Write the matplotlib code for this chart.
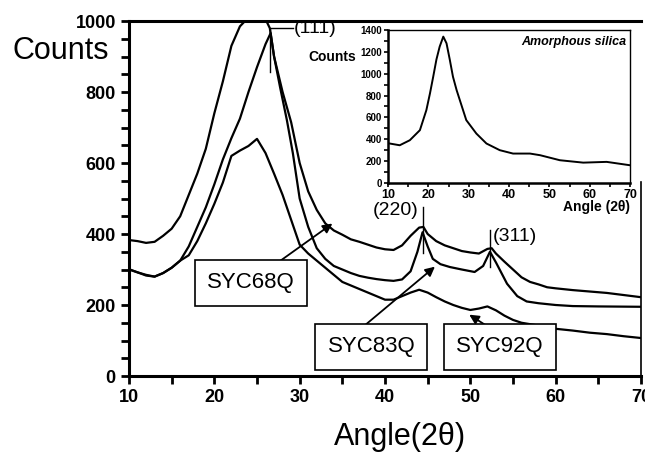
import matplotlib
matplotlib.use("Agg")
import matplotlib.pyplot as plt
from matplotlib.ticker import MultipleLocator

plt.rcParams['font.family'] = ['Liberation Sans', 'DejaVu Sans']

# === Data ===
x68 = [10, 11, 12, 13, 14, 15, 16, 17, 18, 19, 20, 21, 22, 23, 24, 25, 26, 26.5, 27, 28,
       29, 30, 31, 32, 33, 34, 35, 36, 37, 38, 39, 40, 41, 42, 43, 44, 44.5, 45, 46, 47,
       48, 49, 50, 51, 52, 52.5, 53, 54, 55, 56, 57, 58, 59, 60, 62, 64, 66, 68, 70]
y68 = [383, 380, 375, 378, 395, 415, 450, 510, 570, 640, 740, 830, 930, 985, 1010, 1010, 1005, 980, 900, 800,
       715, 600, 520, 468, 430, 410, 398, 385, 378, 370, 362, 357, 355, 368, 395, 418, 420, 400, 380, 368,
       360, 352, 348, 345, 358, 360, 345, 322, 300, 278, 265, 258, 250, 247, 242, 238, 234, 228, 222]

x83 = [10, 11, 12, 13, 14, 15, 16, 17, 18, 19, 20, 21, 22, 23, 24, 25, 26, 26.6, 27, 27.7,
       28.5, 29.2, 30, 31, 32, 33, 34, 35, 36, 37, 38, 39, 40, 41, 42, 43, 43.8, 44.4, 45, 45.6,
       46.5, 47.6, 49, 50.5, 51.5, 52.3, 53, 54.3, 55.5, 56.6, 58, 60, 62, 65, 70]
y83 = [301, 292, 285, 280, 290, 305, 325, 365, 420, 475, 540, 610, 670, 725, 800, 870, 935, 966, 900, 814,
       721, 628, 500, 420, 360, 330, 310, 300, 290, 282, 277, 273, 270, 268, 272, 295, 350, 405, 365, 330,
       315, 307, 300, 293, 310, 350, 320, 260, 225, 210, 205, 200, 197, 196, 195]

x92 = [10, 11, 12, 13, 14, 15, 16, 17, 18, 19, 20, 21, 22, 23, 24, 25, 26, 27, 28, 29,
       30, 31, 32, 33, 34, 35, 36, 37, 38, 39, 40, 41, 42, 43, 44, 45, 46, 47, 48, 49,
       50, 51, 52, 53, 54, 55, 56, 58, 60, 62, 64, 66, 68, 70]
y92 = [300, 292, 283, 280, 290, 305, 325, 340, 380, 430, 485, 545, 620, 635, 648, 668, 628, 570, 510, 440,
       370, 345, 325, 305, 285, 265, 255, 245, 235, 225, 215, 215, 225, 235, 243, 235, 222, 210, 200, 192,
       186, 190, 196, 185, 170, 158, 150, 142, 133, 128, 122, 118, 112, 107]

# inset: amorphous silica
xs = [10.4, 12.9, 15.4, 17.9, 19.5, 20.4, 21.2, 22, 22.8, 23.7, 24.5, 25.3, 26.1, 27, 27.8, 29.4,
      31.9, 34.4, 37.7, 41, 45.2, 47.7, 52.6, 58.4, 64.2, 70]
ys = [361, 345, 391, 483, 666, 820, 972, 1130, 1247, 1339, 1278, 1130, 972, 850, 758, 575,
      452, 361, 300, 269, 269, 254, 208, 186, 193, 162]

# === Figure ===
fig = plt.figure(figsize=(6.45, 4.54), dpi=100)
ax = fig.add_axes([0.2, 0.1718, 0.7938, 0.7819])

for xv, yv in [(x68, y68), (x83, y83), (x92, y92)]:
    ax.plot(xv, yv, color='black', lw=1.6)

ax.set_xlim(10, 70)
ax.set_ylim(0, 1000)
ax.xaxis.set_major_locator(MultipleLocator(10))
ax.xaxis.set_minor_locator(MultipleLocator(5))
ax.yaxis.set_major_locator(MultipleLocator(200))
ax.yaxis.set_minor_locator(MultipleLocator(50))
ax.tick_params(which='both', direction='out', length=6, width=2)
ax.tick_params(labelsize=13)
for lab in ax.get_xticklabels() + ax.get_yticklabels():
    lab.set_fontweight('bold')
for s in ['left', 'bottom', 'top']:
    ax.spines[s].set_linewidth(2.2)
ax.spines['right'].set_linewidth(1.2)
ax.spines['right'].set_bounds(0, 546)

fig.text(12 / 645, 1 - 51 / 454, 'Counts', fontsize=22, ha='left', va='center')
fig.text(400 / 645, 1 - 437 / 454, 'Angle(2θ)', fontsize=22, ha='center', va='center')

# peak markers
ax.plot([26.5, 26.5, 29.2], [856, 980, 980], color='black', lw=1, clip_on=False)
ax.text(29.3, 980, '(111)', fontsize=14, ha='left', va='center', clip_on=False)
ax.plot([44.45, 44.45], [346, 476], color='black', lw=1)
ax.text(43.9, 466, '(220)', fontsize=14, ha='right', va='center')
ax.plot([52.3, 52.3], [307, 411], color='black', lw=1)
ax.text(52.65, 392, '(311)', fontsize=14, ha='left', va='center')

# sample labels
box = dict(boxstyle='square,pad=0.55', fc='white', ec='black', lw=1.2)
arr = dict(arrowstyle='-|>', color='black', lw=1.3, mutation_scale=14)
ax.annotate('', xy=(34.1, 434), xytext=(27.35, 318), arrowprops=arr)
ax.annotate('', xy=(46.1, 313), xytext=(37.4, 138), arrowprops=arr)
ax.annotate('', xy=(49.6, 177), xytext=(52.65, 130), arrowprops=arr)
ax.text(24.3, 262, 'SYC68Q', fontsize=16, ha='center', va='center', bbox=box)
ax.text(38.4, 82, 'SYC83Q', fontsize=16, ha='center', va='center', bbox=box)
ax.text(53.5, 82, 'SYC92Q', fontsize=16, ha='center', va='center', bbox=box)

# === Inset ===
ins = fig.add_axes([0.6016, 0.597, 0.3752, 0.337])
ins.set_facecolor('white')
ins.plot(xs, ys, color='black', lw=1.4)
ins.set_xlim(10, 70)
ins.set_ylim(0, 1400)
ins.xaxis.set_major_locator(MultipleLocator(10))
ins.xaxis.set_minor_locator(MultipleLocator(5))
ins.yaxis.set_major_locator(MultipleLocator(200))
ins.yaxis.set_minor_locator(MultipleLocator(100))
ins.tick_params(which='both', direction='out', length=3, width=1.2, pad=1.5)
ins.tick_params(axis='y', labelsize=7)
ins.tick_params(axis='x', labelsize=9)
for lab in ins.get_xticklabels() + ins.get_yticklabels():
    lab.set_fontweight('bold')
ins.spines['left'].set_linewidth(1.8)
ins.spines['bottom'].set_linewidth(1.8)
ins.spines['top'].set_linewidth(1)
ins.spines['right'].set_linewidth(1)
ins.text(0.985, 0.92, 'Amorphous silica', transform=ins.transAxes, fontsize=9,
         fontweight='bold', style='italic', ha='right', va='center')
fig.text(308 / 645, 1 - 57 / 454, 'Counts', fontsize=10, fontweight='bold', ha='left', va='center')
fig.text(630 / 645, 1 - 207 / 454, 'Angle (2θ)', fontsize=10, fontweight='bold', ha='right', va='center')

fig.savefig('out.png', dpi=100)
